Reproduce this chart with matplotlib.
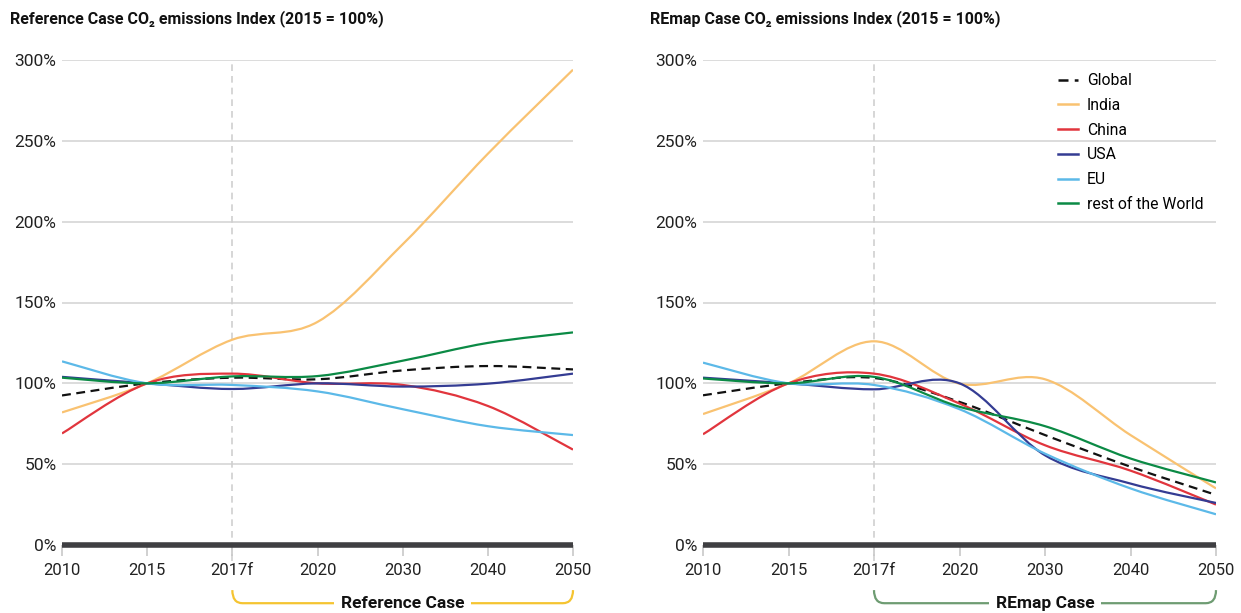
import matplotlib.pyplot as plt
from matplotlib.path import Path
from matplotlib.patches import PathPatch
from matplotlib.lines import Line2D
import matplotlib.transforms as mtransforms

plt.rcParams['font.family'] = ['Roboto', 'DejaVu Sans']

# categories on the x axis (evenly spaced)
years = ['2010', '2015', '2017f', '2020', '2030', '2040', '2050']
pct_ticks = [0, 50, 100, 150, 200, 250, 300]

series_names = ['Global', 'India', 'China', 'USA', 'EU', 'rest of the World']

# Reference Case, index 2015 = 100
ref_global = [92.5, 100, 103.5, 102.5, 108, 110.7, 108.6]
ref_india = [82, 100, 127, 138, 186, 242, 294]
ref_china = [69, 100, 106, 100, 99, 86, 59]
ref_usa = [104, 100, 96.5, 100, 98, 99.8, 106]
ref_eu = [113.6, 100, 99, 95, 84, 73.5, 68]
ref_row = [103.5, 100, 104.3, 104.5, 114, 125, 131.5]

# REmap Case, index 2015 = 100
rem_global = [92.6, 100, 103.3, 88.5, 68, 48.4, 31]
rem_india = [81, 100, 126, 99.8, 102.5, 68, 35]
rem_china = [68.5, 100, 106, 87.5, 61.7, 46, 25]
rem_usa = [103.5, 100, 96.3, 100, 55.5, 38, 26]
rem_eu = [112.8, 100, 99, 84, 56.5, 35, 19]
rem_row = [103, 100, 104, 85.5, 73.5, 53.5, 38.7]

colors = ['#111111', '#f9c271', '#e1353d', '#343c93', '#5cb9e8', '#0b8a45']
styles = [(0, (4, 2.5)), '-', '-', '-', '-', '-']


def smooth_path(ys):
    # cardinal (Catmull-Rom) curve through the points, drawn as cubic beziers
    xs = list(range(len(ys)))
    n = len(xs)
    verts = [(xs[0], ys[0])]
    codes = [Path.MOVETO]
    for i in range(n - 1):
        a = i - 1 if i > 0 else i
        d = i + 2 if i + 2 < n else i + 1
        c1 = (xs[i] + (xs[i + 1] - xs[a]) / 6, ys[i] + (ys[i + 1] - ys[a]) / 6)
        c2 = (xs[i + 1] - (xs[d] - xs[i]) / 6, ys[i + 1] - (ys[d] - ys[i]) / 6)
        verts += [c1, c2, (xs[i + 1], ys[i + 1])]
        codes += [Path.CURVE4] * 3
    return Path(verts, codes)


def draw_panel(ax, data, title, case_label, case_color):
    ax.set_xlim(0, len(years) - 1)
    ax.set_ylim(0, 300)
    for s in ax.spines.values():
        s.set_visible(False)
    ax.set_yticks(pct_ticks)
    ax.set_yticklabels([f'{p}%' for p in pct_ticks])
    ax.set_xticks(range(len(years)))
    ax.set_xticklabels(years)
    ax.tick_params(axis='y', length=0, pad=4, labelsize=12.5, labelcolor='#222222')
    ax.tick_params(axis='x', length=8, width=1.2, color='#c8c8c8', pad=5,
                   labelsize=12, labelcolor='#222222')
    for p in pct_ticks[1:]:
        ax.axhline(p, color='#d9d9d9', lw=1.3, zorder=0)
    ax.axvline(2, ymin=-0.032, ymax=1, color='#cfcfcf', lw=1.2,
               linestyle=(0, (4, 3)), clip_on=False, zorder=0)
    ax.axhline(0, color='#3f3f42', lw=4, solid_capstyle='butt', clip_on=False, zorder=5)

    for ys, c, ls in zip(data, colors, styles):
        patch = PathPatch(smooth_path(ys), fill=False, edgecolor=c, lw=1.6,
                          linestyle=ls, zorder=3)
        ax.add_patch(patch)

    ax.text(-0.1025, 1.086, title, transform=ax.transAxes, fontsize=11.5,
            fontweight='bold', color='#111111', va='center', ha='left')

    # bracket under the projection years
    trans = mtransforms.blended_transform_factory(ax.transData, ax.transAxes)
    y0, y1, r = -0.093, -0.12, 0.12
    verts = [(2, y0), (2, y1), (2 + r, y1), (6 - r, y1), (6, y1), (6, y0)]
    codes = [Path.MOVETO, Path.CURVE3, Path.CURVE3, Path.LINETO, Path.CURVE3, Path.CURVE3]
    ax.add_patch(PathPatch(Path(verts, codes), transform=trans, fill=False,
                           edgecolor=case_color, lw=1.6, clip_on=False))
    ax.text(4, y1, case_label, transform=trans, ha='center', va='center',
            fontsize=12.5, fontweight='bold', color='#111111', clip_on=False,
            bbox=dict(facecolor='white', edgecolor='none', pad=5))


fig = plt.figure(figsize=(12.41, 6.13), dpi=100)
ax1 = fig.add_axes([62 / 1241, 1 - 545 / 613, 511 / 1241, 485 / 613])
ax2 = fig.add_axes([703 / 1241, 1 - 545 / 613, 513 / 1241, 485 / 613])

draw_panel(ax1, [ref_global, ref_india, ref_china, ref_usa, ref_eu, ref_row],
           'Reference Case CO\u2082 emissions Index (2015 = 100%)', 'Reference Case', '#f5c431')
draw_panel(ax2, [rem_global, rem_india, rem_china, rem_usa, rem_eu, rem_row],
           'REmap Case CO\u2082 emissions Index (2015 = 100%)', 'REmap Case', '#6e9c72')

handles = [Line2D([], [], color=c, lw=1.8, linestyle=ls) for c, ls in zip(colors, styles)]
ax2.legend(handles, series_names, loc='upper left', bbox_to_anchor=(0.692, 0.973),
           frameon=False, borderpad=0, borderaxespad=0, fontsize=11.3,
           handlelength=1.3, handletextpad=0.55, labelspacing=0.62)

fig.savefig('out.png', dpi=100)
